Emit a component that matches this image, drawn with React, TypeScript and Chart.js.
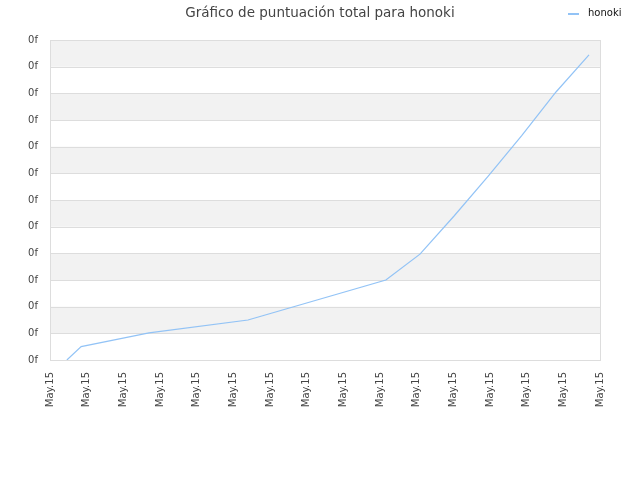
import { useEffect, useRef } from "react";
import { Chart, registerables } from "chart.js";
import type { Plugin } from "chart.js";

Chart.register(...registerables);

const chartTitle = "Gráfico de puntuación total para honoki";
const seriesName = "honoki";

// x positions (in tick steps) and total score
const xSteps = [0.46, 0.85, 2.7, 5.4, 9.16, 10.09, 11.02, 11.94, 12.87, 13.8, 14.7];
const scores = [0, 0.5, 1.02, 1.5, 3.0, 3.97, 5.4, 6.88, 8.42, 10.05, 11.44];

const xTickLabel = "May.15";
const yTickLabel = "0f";

const lineColor = "rgba(140,192,245,0.95)";
const gridColor = "#dddddd";
const bandColor = "#f2f2f2";

// alternating grey bands + frame around the plot area
const bandsPlugin: Plugin<"line"> = {
  id: "bands",
  beforeDatasetsDraw(chart) {
    const { ctx, chartArea } = chart;
    const y = chart.scales.y;
    ctx.save();
    ctx.fillStyle = bandColor;
    for (let v = 1; v < 12; v += 2) {
      const top = y.getPixelForValue(v + 1);
      const bottom = y.getPixelForValue(v);
      ctx.fillRect(chartArea.left, top, chartArea.right - chartArea.left, bottom - top);
    }
    ctx.strokeStyle = gridColor;
    ctx.lineWidth = 1;
    for (let v = 0; v <= 12; v++) {
      const py = Math.round(y.getPixelForValue(v)) + 0.5;
      ctx.beginPath();
      ctx.moveTo(chartArea.left, py);
      ctx.lineTo(chartArea.right, py);
      ctx.stroke();
    }
    ctx.strokeRect(
      Math.round(chartArea.left) + 0.5,
      Math.round(chartArea.top) + 0.5,
      Math.round(chartArea.right - chartArea.left),
      Math.round(chartArea.bottom - chartArea.top)
    );
    ctx.restore();
  },
};

// title centred on the whole canvas, legend in the top right corner
const headerPlugin: Plugin<"line"> = {
  id: "header",
  afterDraw(chart) {
    const { ctx, width } = chart;
    const label = String(chart.data.datasets[0]?.label ?? "");
    ctx.save();
    ctx.textBaseline = "middle";

    ctx.fillStyle = "#444";
    ctx.font = "13.5px 'DejaVu Sans'";
    ctx.textAlign = "center";
    ctx.fillText(chartTitle, width / 2, 13);

    ctx.strokeStyle = lineColor;
    ctx.lineWidth = 2;
    ctx.beginPath();
    ctx.moveTo(568, 14);
    ctx.lineTo(579, 14);
    ctx.stroke();
    ctx.fillStyle = "#111";
    ctx.font = "10px 'DejaVu Sans'";
    ctx.textAlign = "left";
    ctx.fillText(label, 588, 13);
    ctx.restore();
  },
};

export default function App() {
  const canvasRef = useRef<HTMLCanvasElement | null>(null);

  useEffect(() => {
    if (!canvasRef.current) return;

    const chart = new Chart(canvasRef.current, {
      type: "line",
      data: {
        datasets: [
          {
            label: seriesName,
            data: xSteps.map((x, i) => ({ x, y: scores[i] })),
            borderColor: lineColor,
            borderWidth: 1.2,
            pointRadius: 0,
            tension: 0,
            fill: false,
          },
        ],
      },
      options: {
        animation: false,
        responsive: false,
        devicePixelRatio: 1,
        layout: { padding: { left: 0, right: 40, top: 40, bottom: 0 } },
        plugins: {
          legend: { display: false },
          tooltip: { enabled: false },
          title: { display: false },
        },
        scales: {
          x: {
            type: "linear",
            min: 0,
            max: 15,
            afterBuildTicks: (scale) => {
              scale.ticks = Array.from({ length: 16 }, (_, i) => ({ value: i }));
            },
            ticks: {
              autoSkip: false,
              maxRotation: 90,
              minRotation: 90,
              padding: 4,
              color: "#444",
              font: { family: "'DejaVu Sans'", size: 10 },
              callback: () => xTickLabel,
            },
            grid: { display: false },
            border: { display: false },
            afterFit: (scale) => {
              scale.height = 120;
            },
          },
          y: {
            min: 0,
            max: 12,
            afterBuildTicks: (scale) => {
              scale.ticks = Array.from({ length: 13 }, (_, i) => ({ value: i }));
            },
            ticks: {
              color: "#444",
              padding: 4,
              font: { family: "'DejaVu Sans'", size: 10 },
              callback: () => yTickLabel,
            },
            grid: { display: false },
            border: { display: false },
            afterFit: (scale) => {
              scale.width = 50;
            },
          },
        },
      },
      plugins: [bandsPlugin, headerPlugin],
    });

    return () => chart.destroy();
  }, []);

  return (
    <div style={{ position: "absolute", left: 0, top: 0, width: 640, height: 480, background: "#fff" }}>
      <canvas ref={canvasRef} width={640} height={480} />
    </div>
  );
}
